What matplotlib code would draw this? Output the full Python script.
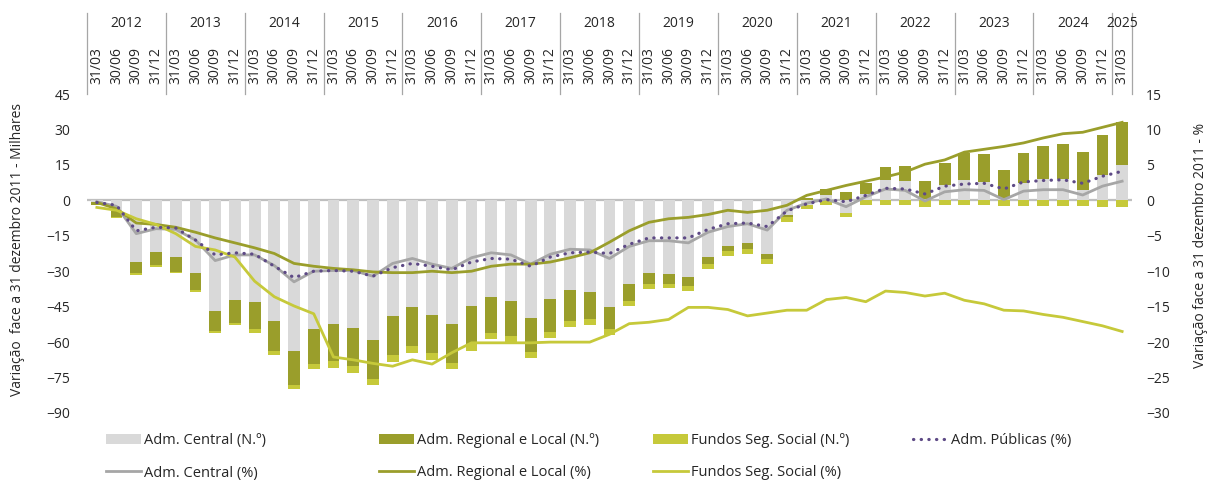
import matplotlib.pyplot as plt
import numpy as np

plt.rcParams['font.family'] = ['Open Sans', 'DejaVu Sans']
plt.rcParams['text.color'] = '#262626'

# quarters 31/03/2012 .. 31/03/2025
years = [str(y) for y in range(2012, 2026)]
quarters = ['31/03', '30/06', '30/09', '31/12']
labels = [q for y in years[:-1] for q in quarters] + ['31/03']

# change vs 31/12/2011, thousands
central_n = [-0.7, -4.7, -26.0, -21.9, -23.9, -30.9, -46.7, -42.1, -43.0, -51.1,
             -63.6, -54.3, -52.5, -54.1, -59.1, -48.9, -45.3, -48.6, -52.3, -44.7,
             -40.8, -42.6, -49.6, -41.6, -38.0, -38.7, -45.0, -35.6, -30.8, -31.1,
             -32.6, -23.9, -19.5, -18.0, -22.9, -6.2, -1.8, 2.1, -5.5, 2.8,
             8.7, 8.0, 0.7, 6.3, 8.5, 7.7, 1.1, 7.3, 9.2, 9.2,
             4.5, 10.8, 15.1]
regional_n = [-1.2, -2.3, -4.9, -5.5, -6.3, -7.1, -8.6, -9.9, -11.4, -12.6,
              -14.5, -14.9, -15.4, -15.9, -16.4, -16.5, -16.3, -16.1, -16.6, -16.1,
              -15.2, -14.7, -14.7, -14.2, -13.1, -11.7, -9.6, -6.9, -4.6, -4.1,
              -3.7, -3.1, -2.0, -2.5, -2.0, -0.8, 1.1, 2.5, 3.5, 4.5,
              5.4, 6.5, 7.3, 9.5, 11.5, 11.7, 11.9, 12.8, 13.8, 14.5,
              15.8, 16.9, 18.0]
fundos_n = [-0.2, -0.3, -0.5, -0.7, -0.6, -1.0, -1.0, -0.9, -1.6, -1.7,
            -1.8, -2.1, -2.9, -2.9, -2.6, -3.1, -3.1, -2.8, -2.5, -2.8,
            -2.5, -2.9, -2.5, -2.6, -2.5, -2.5, -2.5, -2.1, -2.3, -1.9,
            -2.0, -2.0, -2.0, -2.0, -2.1, -2.1, -2.0, -2.0, -1.7, -2.1,
            -1.8, -2.0, -2.7, -2.0, -2.1, -2.1, -2.3, -2.4, -2.4, -2.4,
            -2.4, -2.7, -2.7]

# change vs 31/12/2011, %
publicas_pct = [-0.3, -0.7, -4.3, -3.8, -3.9, -5.6, -7.7, -7.4, -7.6, -9.3,
                -10.9, -10.0, -9.9, -10.0, -10.7, -9.5, -8.9, -9.3, -9.8, -8.7,
                -8.2, -8.3, -9.3, -8.0, -7.4, -7.3, -7.5, -6.2, -5.3, -5.3,
                -5.3, -4.1, -3.3, -3.2, -3.7, -1.5, -0.5, 0.1, -0.2, 0.7,
                1.7, 1.6, 0.9, 2.0, 2.3, 2.4, 1.6, 2.6, 2.8, 2.9,
                2.4, 3.4, 4.1]
central_pct = [-0.2, -0.85, -4.7, -4.0, -4.1, -5.6, -8.5, -7.7, -7.7, -9.2,
               -11.5, -10.0, -9.9, -9.9, -10.7, -8.9, -8.2, -9.0, -9.6, -8.1,
               -7.4, -7.7, -9.0, -7.6, -6.9, -7.0, -8.2, -6.5, -5.7, -5.7,
               -6.0, -4.5, -3.7, -3.3, -4.2, -1.4, -0.4, 0.2, -0.9, 0.5,
               1.6, 1.4, -0.1, 1.2, 1.5, 1.4, 0.1, 1.3, 1.5, 1.5,
               0.75, 2.0, 2.7]
regional_pct = [-0.3, -1.2, -3.2, -3.4, -3.8, -4.5, -5.3, -6.0, -6.7, -7.5,
                -8.9, -9.3, -9.6, -9.8, -10.1, -10.2, -10.2, -10.0, -10.2, -10.0,
                -9.3, -9.0, -9.0, -8.7, -8.1, -7.4, -5.9, -4.3, -3.1, -2.6,
                -2.4, -2.0, -1.4, -1.7, -1.4, -0.7, 0.7, 1.4, 2.1, 2.7,
                3.3, 4.0, 5.1, 5.7, 6.8, 7.2, 7.6, 8.1, 8.8, 9.4,
                9.6, 10.3, 11.0]
fundos_pct = [-1.0, -1.4, -2.6, -3.4, -4.7, -6.5, -7.0, -8.0, -11.4, -13.6,
              -14.9, -16.0, -22.1, -22.5, -23.0, -23.4, -22.5, -23.1, -21.5, -20.1,
              -20.1, -20.1, -20.1, -20.0, -20.0, -20.0, -18.9, -17.4, -17.2, -16.8,
              -15.1, -15.1, -15.4, -16.3, -15.9, -15.5, -15.5, -14.0, -13.7, -14.3,
              -12.8, -13.0, -13.5, -13.1, -14.1, -14.6, -15.5, -15.6, -16.1, -16.5,
              -17.1, -17.7, -18.5]

c_bar_central = '#d9d9d9'
c_olive = '#9a9e2b'
c_lime = '#c6c93a'
c_line_gray = '#a6a6a6'
c_purple = '#5e4a86'

W, H = 1208, 483
fig = plt.figure(figsize=(W / 100, H / 100), dpi=100)
ax = fig.add_axes([87 / W, 1 - 413 / H, (1132 - 87) / W, 319 / H])
x = np.arange(len(labels))

# stacked bars, positives and negatives stacked separately
pos = np.zeros(len(x))
neg = np.zeros(len(x))
bars = []
for vals, col in [(central_n, c_bar_central), (regional_n, c_olive), (fundos_n, c_lime)]:
    v = np.array(vals)
    bottom = np.where(v >= 0, pos, neg)
    bars.append(ax.bar(x, v, 0.6, bottom=bottom, color=col, linewidth=0, zorder=2))
    pos += np.clip(v, 0, None)
    neg += np.clip(v, None, 0)

ax.axhline(0, color='#bfbfbf', lw=1.6, zorder=1)
ax.set_xlim(-0.5, len(x) - 0.5)
ax.set_ylim(-90, 45)
ax.set_yticks(range(-90, 46, 15))
ax.set_xticks([])
ax.tick_params(axis='y', length=0, pad=12, labelsize=10, labelcolor='#262626')
for s in ax.spines.values():
    s.set_visible(False)

ax2 = ax.twinx()
ax2.set_ylim(-30, 15)
ax2.set_yticks(range(-30, 16, 5))
ax2.tick_params(axis='y', length=0, pad=10, labelsize=10, labelcolor='#262626')
for s in ax2.spines.values():
    s.set_visible(False)

l_central, = ax2.plot(x, central_pct, color=c_line_gray, lw=2.0)
l_regional, = ax2.plot(x, regional_pct, color=c_olive, lw=2.0)
l_fundos, = ax2.plot(x, fundos_pct, color=c_lime, lw=2.0)
l_publicas, = ax2.plot(x, publicas_pct, color=c_purple, lw=2.3,
                       ls=(0, (0.1, 2.3)), dash_capstyle='round')

# category axis on top: quarters and years
trans = ax.get_xaxis_transform()
for i, lab in enumerate(labels):
    ax.text(i, 1.032, lab, rotation=90, ha='center', va='bottom',
            transform=trans, fontsize=10)
for k, yr in enumerate(years):
    cx = 4 * k + 1.5 if k < len(years) - 1 else len(x) - 1
    ax.text(cx, 1.222, yr, ha='center', va='center', transform=trans, fontsize=10)
seps = [4 * k - 0.5 for k in range(len(years))] + [len(x) - 0.5]
for s in seps:
    ax.plot([s, s], [1.0, 1.254], transform=trans, clip_on=False,
            color='#a6a6a6', lw=0.9)

fig.text(18 / W, 1 - 250 / H, 'Variação  face a 31 dezembro 2011 - Milhares',
         rotation=90, ha='center', va='center', fontsize=10)
fig.text(1200 / W, 1 - 245 / H, 'Variação face a 31 dezembro 2011 - %',
         rotation=90, ha='center', va='center', fontsize=10)

cols = [
    (106, [bars[0], l_central], ['Adm. Central (N.º)', 'Adm. Central (%)']),
    (379, [bars[1], l_regional], ['Adm. Regional e Local (N.º)', 'Adm. Regional e Local (%)']),
    (653, [bars[2], l_fundos], ['Fundos Seg. Social (N.º)', 'Fundos Seg. Social (%)']),
    (913, [l_publicas], ['Adm. Públicas (%)']),
]
for x0, hs, ls in cols:
    fig.legend(hs, ls, loc='upper left', bbox_to_anchor=(x0 / W, 1 - 433 / H),
               frameon=False, borderpad=0, borderaxespad=0, handlelength=2.4,
               handleheight=0.7, handletextpad=0.2, labelspacing=1.2, fontsize=10.5)

fig.savefig('out.png', dpi=100)
